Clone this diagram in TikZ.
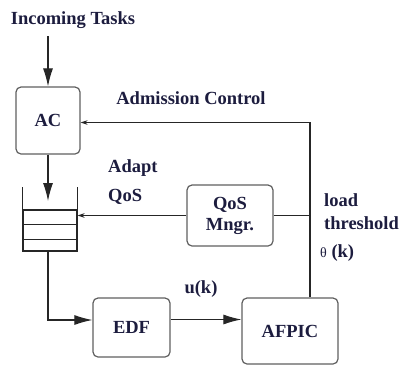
\documentclass[tikz,border=0pt]{standalone}
\usepackage{fontspec}
\setmainfont{Liberation Serif}
\usetikzlibrary{arrows.meta,calc}
\definecolor{txt}{RGB}{28,28,62}
\definecolor{boxc}{RGB}{95,95,95}
\begin{document}
\begin{tikzpicture}[x=1pt,y=-1pt,
 every node/.style={font=\fontsize{18.5}{21}\selectfont\bfseries, text=txt, inner sep=0pt},
 blk/.style={draw=boxc, line width=1.2pt, rounded corners=5pt, align=center},
 big/.style={-{Latex[length=18pt,width=10pt]}},
 small/.style={-{Stealth[length=7pt,width=4.5pt]}},
 wire/.style={line width=1.1pt, draw=black!85}]
\useasboundingbox (0,0) rectangle (401,365);
\clip (0,0) rectangle (401,365);
% blocks
\node[blk, minimum width=64pt, minimum height=67pt] (ac) at (48,120.5) {AC};
\node[blk, minimum width=86pt, minimum height=61pt] (qos) at (230,215.5) {QoS\\Mngr.};
\node[blk, minimum width=77pt, minimum height=59pt] (edf) at (131.5,327.5) {EDF};
\node[blk, minimum width=96pt, minimum height=66pt] (afpic) at (290,331) {AFPIC};
% queue
\node[draw=black!85, line width=1.1pt, minimum width=54pt, minimum height=41pt] (queue) at (50,230.5) {};
\draw[wire] (queue.north west) -- ++(0,-22);
\draw[wire] (queue.north east) -- ++(0,-22);
\draw[wire] ($(queue.north west)+(0,15)$) -- ($(queue.north east)+(0,15)$);
\draw[wire] ($(queue.north west)+(0,30)$) -- ($(queue.north east)+(0,30)$);
% labels
\node (lin) at (73,20) {Incoming Tasks};
\node (ladm) at (191,98) {Admission Control};
\node[anchor=west] (lad) at (108,168) {Adapt};
\node[anchor=west] (lqos) at (108,197) {QoS};
\node (lu) at (201,289) {u(k)};
\node[anchor=west] (lload) at (324,200) {load};
\node[anchor=west] (lthr) at (324,223) {threshold};
\node[anchor=west] (lth) at (320,253) {{\mdseries\fontsize{14}{16}\selectfont θ} (k)};
% connectors
\coordinate (inc) at (48,36);
\draw[wire,big] (inc) -- (ac.north);
\coordinate (qin) at (48,201);
\draw[wire,big] (ac.south) -- (qin);
\coordinate (qout) at (queue.south -| ac.south);
\coordinate (e0) at ($(edf.west)+(0,-7.5)$);
\draw[wire,big] (qout) |- (e0);
\coordinate (e1) at ($(edf.east)+(0,-8)$);
\draw[wire,big] (e1) -- (e1 -| afpic.west);
\coordinate (f1) at ($(afpic.north)+(20,0)$);
\coordinate (f2) at (310,122.5);
\draw[wire,small] (f1) -- (f2) -- (f2 -| ac.east);
\draw[wire] (qos.east) -- (qos.east -| f1);
\draw[wire,small] (qos.west) -- (qos.west -| queue.east);
\end{tikzpicture}
\end{document}
